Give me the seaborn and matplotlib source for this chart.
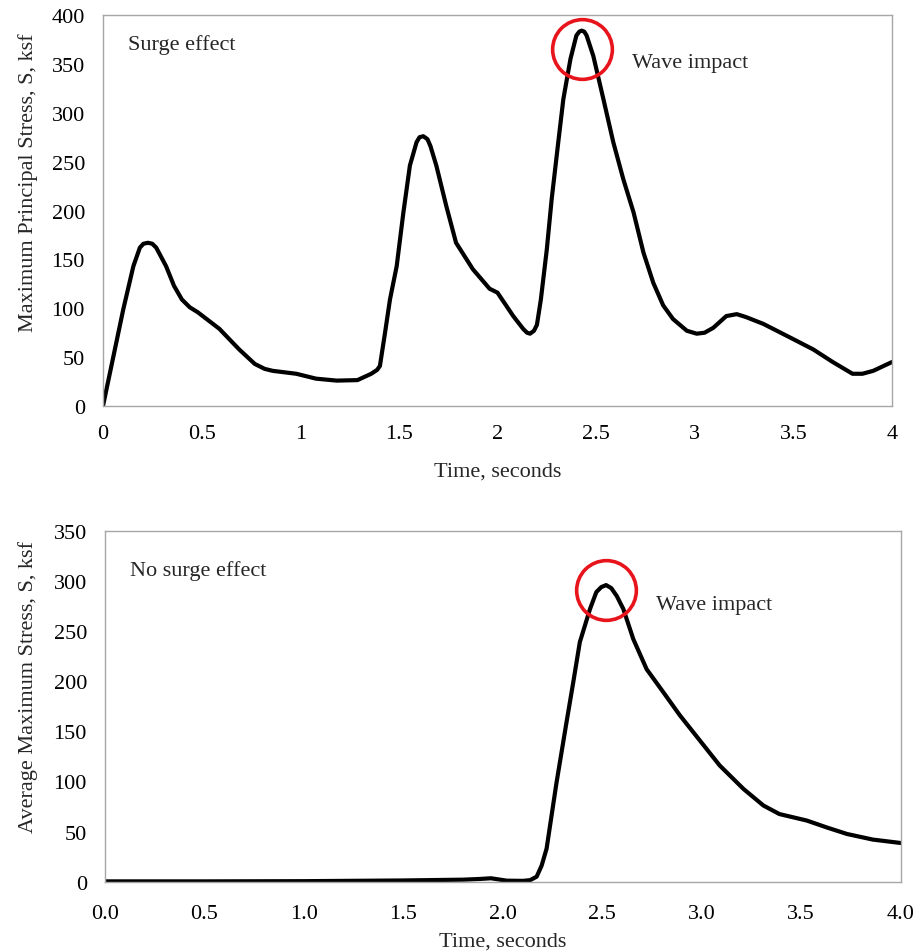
import numpy as np
import pandas as pd
import matplotlib
matplotlib.use("Agg")
import matplotlib.pyplot as plt
import seaborn as sns

# ---- data ----
t_surge = [0.0, 0.103, 0.154, 0.187, 0.205, 0.228, 0.25, 0.27, 0.32, 0.36, 0.40, 0.44, 0.48, 0.59,
           0.69, 0.77, 0.82, 0.86, 0.98, 1.08, 1.185, 1.29, 1.36, 1.39, 1.404, 1.43, 1.455, 1.489,
           1.523, 1.556, 1.59, 1.605, 1.624, 1.645, 1.66, 1.69, 1.74, 1.79, 1.875, 1.96, 2.0, 2.08,
           2.13, 2.15, 2.165, 2.185, 2.2, 2.22, 2.25, 2.275, 2.31, 2.334, 2.37, 2.40, 2.415, 2.427,
           2.44, 2.452, 2.486, 2.537, 2.587, 2.638, 2.69, 2.74, 2.79, 2.84, 2.89, 2.96, 3.01, 3.05,
           3.094, 3.16, 3.213, 3.26, 3.348, 3.465, 3.6, 3.70, 3.80, 3.85, 3.905, 4.0]
s_surge = [0, 99, 143, 162, 166, 167, 166, 162, 143, 123, 109, 101, 96, 79,
           58, 43, 38, 36, 33, 28, 26, 26.5, 33, 37, 41, 75, 109, 143,
           198, 246, 270, 275, 276, 273, 266, 246, 205, 167, 140, 120, 116, 92,
           79, 75, 74, 77, 83, 109, 160, 212, 273, 314, 355, 379, 383, 384,
           383, 379, 358, 314, 270, 232, 198, 157, 126, 103, 89, 77, 74, 75,
           80, 92, 94, 91, 84, 72, 58, 45, 33, 33, 36, 45]

t_nosurge = [0.0, 0.5, 1.0, 1.5, 1.8, 1.885, 1.94, 2.02, 2.1, 2.137, 2.17, 2.195, 2.22, 2.27,
             2.32, 2.354, 2.387, 2.438, 2.47, 2.495, 2.519, 2.545, 2.573, 2.606, 2.656, 2.723,
             2.807, 2.89, 2.99, 3.09, 3.21, 3.31, 3.39, 3.528, 3.63, 3.73, 3.86, 4.0]
s_nosurge = [0.3, 0.3, 0.5, 1.2, 2.0, 2.7, 3.4, 1.0, 0.8, 1.5, 5, 16, 33, 99,
             159, 199, 239, 272, 289, 294, 296, 293, 285, 272, 242, 212,
             189, 166, 141, 116, 92.5, 76, 67.5, 61, 54, 47.6, 42, 38.6]

top_xticks = [0, 0.5, 1, 1.5, 2, 2.5, 3, 3.5, 4]
top_xlabels = ["0", "0.5", "1", "1.5", "2", "2.5", "3", "3.5", "4"]
top_yticks = [0, 50, 100, 150, 200, 250, 300, 350, 400]
bot_xticks = [0.0, 0.5, 1.0, 1.5, 2.0, 2.5, 3.0, 3.5, 4.0]
bot_xlabels = ["0.0", "0.5", "1.0", "1.5", "2.0", "2.5", "3.0", "3.5", "4.0"]
bot_yticks = [0, 50, 100, 150, 200, 250, 300, 350]

impact_top = (2.43, 365)
impact_bot = (2.519, 291)

# ---- style ----
sns.set_style("white")
plt.rcParams["font.family"] = ["Liberation Serif", "DejaVu Serif"]
FS = 16

fig = plt.figure(figsize=(9.17, 9.53), dpi=100)
ax1 = fig.add_axes([0.1123, 0.5729, 0.8604, 0.4103])
ax2 = fig.add_axes([0.1145, 0.0738, 0.8677, 0.3680])

df1 = pd.DataFrame({"t": t_surge, "s": s_surge})
df2 = pd.DataFrame({"t": t_nosurge, "s": s_nosurge})
sns.lineplot(data=df1, x="t", y="s", ax=ax1, color="black", lw=3.0, sort=False,
             solid_joinstyle="round", solid_capstyle="round")
sns.lineplot(data=df2, x="t", y="s", ax=ax2, color="black", lw=3.0, sort=False,
             solid_joinstyle="round", solid_capstyle="round")

for ax in (ax1, ax2):
    for sp in ax.spines.values():
        sp.set_color("#a6a6a6")
        sp.set_linewidth(1.0)
    ax.tick_params(axis="both", length=0, labelsize=FS, colors="black")
    ax.tick_params(axis="y", pad=13)

ax1.tick_params(axis="x", pad=13)
ax2.tick_params(axis="x", pad=16)

ax1.set_xlim(0, 4)
ax1.set_ylim(0, 400)
ax1.set_xticks(top_xticks)
ax1.set_xticklabels(top_xlabels)
ax1.set_yticks(top_yticks)
ax1.set_xlabel("Time, seconds", fontsize=FS, labelpad=13)
ax1.set_ylabel("Maximum Principal Stress, S, ksf", fontsize=FS)
ax1.yaxis.set_label_coords(-0.082, 0.575)

ax2.set_xlim(0, 4)
ax2.set_ylim(0, 350)
ax2.set_xticks(bot_xticks)
ax2.set_xticklabels(bot_xlabels)
ax2.set_yticks(bot_yticks)
ax2.set_xlabel("Time, seconds", fontsize=FS, labelpad=6)
ax2.set_ylabel("Average Maximum Stress, S, ksf", fontsize=FS)
ax2.yaxis.set_label_coords(-0.084, 0.557)

ax1.text(0.032, 0.927, "Surge effect", transform=ax1.transAxes, fontsize=FS, va="center", ha="left")
ax1.text(0.670, 0.878, "Wave impact", transform=ax1.transAxes, fontsize=FS, va="center", ha="left")
ax2.text(0.031, 0.888, "No surge effect", transform=ax2.transAxes, fontsize=FS, va="center", ha="left")
ax2.text(0.692, 0.791, "Wave impact", transform=ax2.transAxes, fontsize=FS, va="center", ha="left")

ax1.plot([impact_top[0]], [impact_top[1]], marker="o", ms=43, mfc="none", mec="#e8141b", mew=2.6, clip_on=False)
ax2.plot([impact_bot[0]], [impact_bot[1]], marker="o", ms=43, mfc="none", mec="#e8141b", mew=2.6, clip_on=False)

fig.savefig("out.png", dpi=100, facecolor="white")
